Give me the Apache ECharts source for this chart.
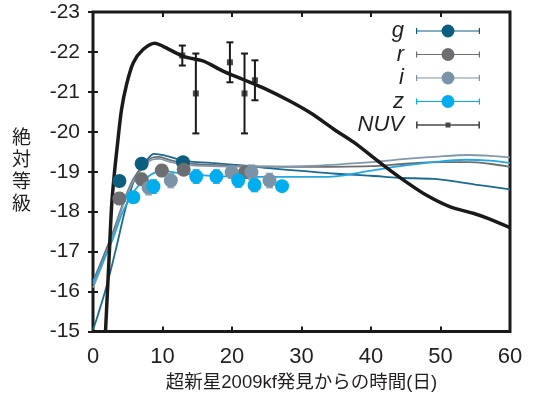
<!DOCTYPE html>
<html>
<head>
<meta charset="utf-8">
<script src="https://cdn.jsdelivr.net/npm/echarts@6/dist/echarts.min.js"></script>
<style>html,body{margin:0;padding:0;background:#fff;}#c{width:537px;height:397px;}</style>
</head>
<body>
<div id="c"></div>
<script>
// ---- tick labels / axes ----
const xTicks = [0, 10, 20, 30, 40, 50, 60];
const yTicks = [-23, -22, -21, -20, -19, -18, -17, -16, -15];
const xTitle = '超新星2009kf発見からの時間(日)';
const yTitle = '絶対等級';
const bandNames = ['g', 'r', 'i', 'z', 'NUV'];

// ---- observed points [day, mag, err] ----
const gDays = [3.8, 7.0, 12.95];
const gMag  = [-18.77, -19.2, -19.24];
const gErr  = [0.12, 0.12, 0.1];

const rDays = [3.8, 7.0, 9.9, 13.05, 21.9];
const rMag  = [-18.33, -18.81, -19.03, -19.05, -18.99];
const rErr  = [0.15, 0.15, 0.15, 0.12, 0.15];

const iDays = [8.0, 11.2, 19.95, 22.8, 25.4];
const iMag  = [-18.6, -18.78, -18.99, -18.99, -18.78];
const iErr  = [0.18, 0.18, 0.15, 0.18, 0.18];

const zDays = [5.8, 8.7, 14.85, 17.75, 20.9, 23.25, 27.2];
const zMag  = [-18.36, -18.63, -18.88, -18.88, -18.78, -18.67, -18.64];
const zErr  = [0.1, 0.17, 0.17, 0.17, 0.17, 0.17, 0.12];

const nuvDays = [12.85, 14.8, 19.7, 21.8, 23.3];
const nuvMag  = [-21.91, -20.96, -21.74, -20.96, -21.29];
const nuvErr  = [0.25, 1.0, 0.5, 1.0, 0.5];

// ---- model curves ----
const gModelDays = [0, 0.5, 1.9, 3.35, 4.8, 6.2, 7.7, 8.8, 10.5, 13, 17, 22, 26, 30, 35, 40, 44, 49, 52, 55, 60];
const gModelMag  = [-15.05, -15.3, -16.1, -17.1, -18.16, -18.9, -19.28, -19.45, -19.4, -19.28, -19.22, -19.15, -19.08, -19.02, -18.95, -18.9, -18.85, -18.82, -18.76, -18.68, -18.56];

const rModelDays = [0, 1.4, 2.9, 4.3, 5.75, 7.2, 8.5, 9.5, 11, 13, 17, 22, 30, 40, 45, 50, 54, 57, 60];
const rModelMag  = [-16.26, -16.84, -17.5, -18.2, -18.8, -19.15, -19.35, -19.37, -19.3, -19.22, -19.17, -19.14, -19.12, -19.14, -19.2, -19.24, -19.24, -19.2, -19.12];

const iModelDays = [0, 1.4, 2.9, 4.3, 5.75, 7.2, 8.5, 9.5, 11, 13, 17, 22, 30, 40, 45, 49, 54, 57, 60];
const iModelMag  = [-16.1, -16.7, -17.4, -18.15, -18.75, -19.1, -19.3, -19.32, -19.25, -19.18, -19.14, -19.13, -19.14, -19.24, -19.32, -19.37, -19.42, -19.4, -19.36];

const zModelDays = [0, 1.4, 2.9, 4.3, 6.2, 8.2, 10, 12.5, 17.3, 25, 30, 34.5, 39.4, 44.2, 48.9, 53.7, 57, 60];
const zModelMag  = [-16.2, -16.75, -17.34, -18.0, -18.58, -18.91, -19.02, -18.96, -18.89, -18.87, -18.87, -18.88, -19.01, -19.14, -19.24, -19.3, -19.28, -19.22];

const nuvModelDays = [1.8, 2.3, 2.7, 3.1, 3.5, 4.1, 4.85, 5.8, 7.2, 8.9, 10.1, 13, 15.9, 18.7, 21.6, 24.5, 28.3, 31.5, 34.6, 37.5, 41.8, 45.1, 48, 51.4, 54.7, 57, 60];
const nuvModelMag  = [-15.0, -16.8, -18.2, -19.0, -19.65, -20.55, -21.2, -21.73, -22.06, -22.22, -22.14, -21.89, -21.77, -21.52, -21.31, -21.1, -20.77, -20.45, -20.07, -19.74, -19.16, -18.74, -18.41, -18.12, -17.96, -17.82, -17.6];

// ---- styles ----
const FONT = "'Liberation Sans', 'Noto Sans CJK JP', sans-serif";
const INK = '#231f20';
const markerColors = { g: '#0c5e7e', r: '#6d6e71', i: '#7a93a6', z: '#00aeef', NUV: '#1a1a1a' };
const barColors    = { g: '#2d95c8', r: '#8a8b8d', i: '#8aa4b6', z: '#2ab3ec', NUV: '#1a1a1a' };
const curveColors  = { g: '#1b6a90', r: '#6d6e71', i: '#8199ab', z: '#22a7e0' };

function zip3(a, b, c) { return a.map((v, k) => [v, b[k], c[k]]); }
function zip2(a, b) { return a.map((v, k) => [v, b[k]]); }

function errRender(color, capHalf, lw) {
  return function (params, api) {
    const x = api.value(0), y = api.value(1), e = api.value(2);
    const p1 = api.coord([x, y - e]);
    const p2 = api.coord([x, y + e]);
    const st = { stroke: color, lineWidth: lw };
    return {
      type: 'group',
      children: [
        { type: 'line', shape: { x1: p1[0], y1: p1[1], x2: p2[0], y2: p2[1] }, style: st },
        { type: 'line', shape: { x1: p1[0] - capHalf, y1: p1[1], x2: p1[0] + capHalf, y2: p1[1] }, style: st },
        { type: 'line', shape: { x1: p2[0] - capHalf, y1: p2[1], x2: p2[0] + capHalf, y2: p2[1] }, style: st }
      ]
    };
  };
}

const circleIcon = 'path://M0,3.5 L1.2,3.5 L1.2,9.5 L0,9.5 Z M62.8,3.5 L64,3.5 L64,9.5 L62.8,9.5 Z M0,5.9 L64,5.9 L64,7.1 L0,7.1 Z M25.5,6.5 A6.5,6.5 0 1 1 38.5,6.5 A6.5,6.5 0 1 1 25.5,6.5 Z';
const squareIcon = 'path://M0,0 L1.6,0 L1.6,7 L0,7 Z M62.4,0 L64,0 L64,7 L62.4,7 Z M0,2.7 L64,2.7 L64,4.3 L0,4.3 Z M29.5,1 L34.5,1 L34.5,6 L29.5,6 Z';

const bands = [
  { name: 'g', days: gDays, mag: gMag, err: gErr },
  { name: 'r', days: rDays, mag: rMag, err: rErr },
  { name: 'i', days: iDays, mag: iMag, err: iErr },
  { name: 'z', days: zDays, mag: zMag, err: zErr }
];
const models = [
  { name: 'g', days: gModelDays, mag: gModelMag },
  { name: 'r', days: rModelDays, mag: rModelMag },
  { name: 'i', days: iModelDays, mag: iModelMag },
  { name: 'z', days: zModelDays, mag: zModelMag }
];

const series = [];
models.forEach(m => {
  series.push({
    name: m.name + '-model', type: 'line', data: zip2(m.days, m.mag),
    showSymbol: false, smooth: 0.35, silent: true,
    lineStyle: { color: curveColors[m.name], width: 1.8 }, z: 2
  });
});
series.push({
  name: 'NUV-model', type: 'line', data: zip2(nuvModelDays, nuvModelMag),
  showSymbol: false, smooth: 0.3, silent: true,
  lineStyle: { color: '#1a1a1a', width: 3.5 }, z: 3
});
bands.forEach(b => {
  series.push({
    name: b.name + '-err', type: 'custom', data: zip3(b.days, b.mag, b.err),
    renderItem: errRender(barColors[b.name], 3.5, 1.3), z: 4, silent: true
  });
  series.push({
    name: b.name, type: 'scatter', data: zip2(b.days, b.mag),
    symbol: 'circle', symbolSize: 14,
    itemStyle: { color: markerColors[b.name], opacity: 1 }, z: 5
  });
});
series.push({
  name: 'NUV-err', type: 'custom', data: zip3(nuvDays, nuvMag, nuvErr),
  renderItem: errRender('#1a1a1a', 3.5, 2), z: 6, silent: true
});
series.push({
  name: 'NUV', type: 'scatter', data: zip2(nuvDays, nuvMag),
  symbol: 'rect', symbolSize: 6,
  itemStyle: { color: '#1a1a1a' }, z: 7
});

const chart = echarts.init(document.getElementById('c'), null, { renderer: 'canvas' });
chart.setOption({
  animation: false,
  backgroundColor: '#fff',
  grid: { left: 93, right: 27, top: 12, bottom: 63, show: true, borderWidth: 3, borderColor: '#1a1a1a', backgroundColor: 'transparent' },
  legend: {
    orient: 'vertical', align: 'right', right: 52, top: 15,
    itemWidth: 64, itemHeight: 13, itemGap: 1.5,
    selectedMode: false,
    textStyle: { fontFamily: FONT, fontStyle: 'italic', fontSize: 22, lineHeight: 22, color: INK, padding: [0, 7, 0, 0] },
    data: bandNames.map(n => ({
      name: n,
      icon: n === 'NUV' ? squareIcon : circleIcon,
      itemStyle: { color: markerColors[n] }
    }))
  },
  xAxis: [
    {
      type: 'value', min: xTicks[0], max: xTicks[xTicks.length - 1], interval: 10, position: 'bottom',
      axisLine: { show: false }, splitLine: { show: false },
      axisTick: { inside: true, length: 5, lineStyle: { color: '#1a1a1a', width: 2 } },
      axisLabel: { fontFamily: FONT, fontSize: 22, color: INK, margin: 14 },
      name: xTitle, nameLocation: 'middle', nameGap: 42,
      nameTextStyle: { fontFamily: FONT, fontSize: 18.5, color: INK }
    },
    {
      type: 'value', min: xTicks[0], max: xTicks[xTicks.length - 1], interval: 10, position: 'top',
      axisLine: { show: false }, splitLine: { show: false }, axisLabel: { show: false },
      axisTick: { inside: true, length: 5, lineStyle: { color: '#1a1a1a', width: 2 } }
    }
  ],
  yAxis: [
    {
      type: 'value', min: yTicks[0], max: yTicks[yTicks.length - 1], interval: 1, inverse: true, position: 'left',
      axisLine: { show: false }, splitLine: { show: false },
      axisTick: { inside: true, length: 5, lineStyle: { color: '#1a1a1a', width: 2 } },
      axisLabel: { fontFamily: FONT, fontSize: 21, color: INK, margin: 13 },
      name: yTitle.split('').join('\n'), nameLocation: 'middle', nameRotate: 0, nameGap: 62,
      nameTextStyle: { fontFamily: FONT, fontSize: 19, lineHeight: 21.7, color: INK }
    },
    {
      type: 'value', min: yTicks[0], max: yTicks[yTicks.length - 1], interval: 1, inverse: true, position: 'right',
      axisLine: { show: false }, splitLine: { show: false }, axisLabel: { show: false },
      axisTick: { inside: true, length: 5, lineStyle: { color: '#1a1a1a', width: 2 } }
    }
  ],
  series: series
});
</script>
</body>
</html>
